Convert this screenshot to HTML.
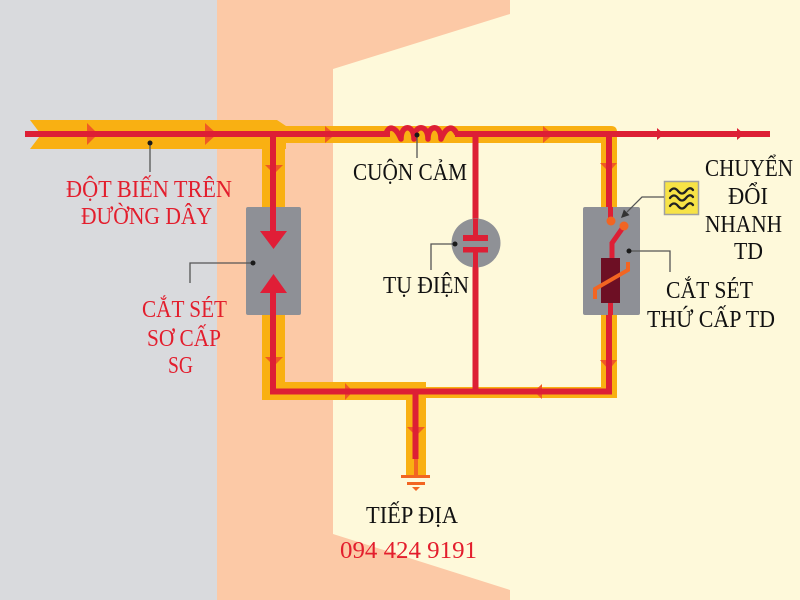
<!DOCTYPE html>
<html>
<head>
<meta charset="utf-8">
<style>
html,body{margin:0;padding:0;width:800px;height:600px;overflow:hidden;background:#fef9da;}
svg{display:block;}
text{font-family:"Liberation Serif","DejaVu Serif",serif;font-size:24.5px;}
.r{fill:#e31e2d;}
.k{fill:#111;}
</style>
</head>
<body>
<svg width="800" height="600" viewBox="0 0 800 600" xmlns="http://www.w3.org/2000/svg">
  <!-- backgrounds -->
  <rect x="0" y="0" width="800" height="600" fill="#fcc9a6"/>
  <rect x="0" y="0" width="217" height="600" fill="#d9dadd"/>
  <polygon points="510,0 800,0 800,600 510,600 510,590 333,534 333,69 510,14" fill="#fef9da"/>

  <!-- orange bands -->
  <g fill="#f9b012">
    <polygon points="30,120 277,120 286,126 286,149 30,149 41,134.5"/>
    <rect x="285" y="126" width="320" height="17"/>
    <path d="M601,126 H611 Q617,126 617,132 V398 H601 Z"/>
    <rect x="262" y="126" width="23" height="274"/>
    <rect x="262" y="382" width="164" height="18"/>
    <rect x="425" y="387" width="192" height="11"/>
    <rect x="406" y="392" width="20" height="83"/>
  </g>

  <!-- orange arrows on bands -->
  <g fill="#f05a24">
    <polygon points="87,123 98,134 87,145"/>
    <polygon points="205,123 217,134 205,145"/>
    <polygon points="325,126 335,134.5 325,143"/>
    <polygon points="543,126 553,134.5 543,143"/>
    <polygon points="265,165 283,165 274,174"/>
    <polygon points="265,357 283,357 274,366"/>
    <polygon points="600,163 617,163 609,172"/>
    <polygon points="600,360 617,360 609,370"/>
    <polygon points="345,383 353,391.5 345,400"/>
    <polygon points="542,384 534,391.5 542,399"/>
    <polygon points="407,427 425,427 416,436"/>
  </g>

  <!-- red lines -->
  <g stroke="#dd1f35" stroke-width="6" fill="none">
    <line x1="25" y1="134" x2="390" y2="134"/>
    <line x1="455" y1="134" x2="770" y2="134"/>
    <line x1="273" y1="131" x2="273" y2="232"/>
    <line x1="273" y1="292" x2="273" y2="394.5"/>
    <line x1="270" y1="391.5" x2="612" y2="391.5"/>
    <line x1="475.5" y1="134" x2="475.5" y2="238"/>
    <line x1="475.5" y1="250" x2="475.5" y2="392"/>
    <line x1="609" y1="131" x2="609" y2="221"/>
    <line x1="609" y1="303" x2="609" y2="394.5"/>
    <line x1="415.5" y1="391" x2="415.5" y2="459"/>
  </g>
  <!-- inductor coil -->
  <path d="M386,134 C388,126 395,125 401,139 C401,124 414,124 414,139 C414,124 428,124 428,139 C428,124 441,124 441,139 C447,125 453,126 457,134" stroke="#dd1f35" stroke-width="5.5" fill="none" stroke-linejoin="round"/>

  <!-- red small arrows on right -->
  <g fill="#dd1f35">
    <polygon points="657,128 664,134 657,140"/>
    <polygon points="737,128 744,134 737,140"/>
  </g>

  <!-- ground symbol -->
  <g fill="#f26522">
    <rect x="414" y="459" width="4" height="16"/>
    <rect x="401" y="475" width="29" height="3"/>
    <rect x="407" y="482" width="18" height="3"/>
    <polygon points="412,487 420,487 416,491"/>
  </g>

  <!-- SG box -->
  <rect x="246" y="207" width="55" height="108" rx="2" fill="#8e9096"/>
  <line x1="273" y1="207" x2="273" y2="232" stroke="#e01e37" stroke-width="6"/>
  <polygon points="260,231 287,231 273.5,249" fill="#e01e37"/>
  <polygon points="260,293 287,293 273.5,274" fill="#e01e37"/>
  <line x1="273" y1="293" x2="273" y2="315" stroke="#e01e37" stroke-width="6"/>

  <!-- capacitor -->
  <circle cx="476" cy="243" r="24.5" fill="#8f9196"/>
  <line x1="475.5" y1="219" x2="475.5" y2="236" stroke="#dd1f35" stroke-width="5"/>
  <line x1="475.5" y1="251" x2="475.5" y2="268" stroke="#dd1f35" stroke-width="5"/>
  <rect x="463" y="235" width="25" height="6" fill="#dd1f35"/>
  <rect x="463" y="247" width="25" height="5.5" fill="#dd1f35"/>

  <!-- TD box -->
  <rect x="583" y="207" width="57" height="108" rx="2" fill="#8e9096"/>
  <line x1="610.5" y1="207" x2="610.5" y2="221" stroke="#dd1f35" stroke-width="5"/>
  <line x1="610.5" y1="303" x2="610.5" y2="315" stroke="#dd1f35" stroke-width="5"/>
  <path d="M624,226 L612,243 V259" stroke="#dd1f35" stroke-width="5" fill="none"/>
  <rect x="601" y="258" width="19" height="45" fill="#6d0f24"/>
  <path d="M595,299 V289 L628,270 V262" stroke="#f26522" stroke-width="4" fill="none"/>
  <circle cx="611" cy="221" r="4.5" fill="#f26522"/>
  <circle cx="624" cy="226" r="4.5" fill="#f26522"/>

  <!-- yellow icon -->
  <rect x="664.5" y="181.5" width="34" height="33" fill="#f7e346" stroke="#a0a0a0" stroke-width="1.5"/>
  <g stroke="#222" stroke-width="2.3" fill="none" stroke-linecap="round">
    <path d="M670,191 q4,-5 8,0 t8,0 t7,-1"/>
    <path d="M670,198 q4,-5 8,0 t8,0 t7,-1"/>
    <path d="M670,206 q4,-5 8,0 t8,0 t7,-1"/>
  </g>

  <!-- callout lines -->
  <g stroke="#555" stroke-width="1.3" fill="none">
    <polyline points="150,143 150,172"/>
    <polyline points="253,263 190,263 190,283"/>
    <polyline points="417,135 417,158"/>
    <polyline points="455,244 431,244 431,270"/>
    <polyline points="664,197 642,197 627,212"/>
    <polyline points="629,251 670,251 670,272"/>
  </g>
  <polygon points="621,218 629.5,215.1 623.9,209.5" fill="#333"/>
  <g fill="#1a1a1a">
    <circle cx="150" cy="143" r="2.5"/>
    <circle cx="253" cy="263" r="2.5"/>
    <circle cx="417" cy="135" r="2.5"/>
    <circle cx="455" cy="244" r="2.5"/>
    <circle cx="629" cy="251" r="2.5"/>
  </g>

  <!-- labels -->
  <text class="r" x="66" y="197" textLength="166" lengthAdjust="spacingAndGlyphs">ĐỘT BIẾN TRÊN</text>
  <text class="r" x="81" y="224" textLength="131" lengthAdjust="spacingAndGlyphs">ĐƯỜNG DÂY</text>
  <text class="r" x="142" y="317" textLength="85" lengthAdjust="spacingAndGlyphs">CẮT SÉT</text>
  <text class="r" x="147" y="346" textLength="74" lengthAdjust="spacingAndGlyphs">SƠ CẤP</text>
  <text class="r" x="168" y="373" textLength="25" lengthAdjust="spacingAndGlyphs">SG</text>

  <text class="k" x="353" y="180" textLength="114" lengthAdjust="spacingAndGlyphs">CUỘN CẢM</text>
  <text class="k" x="383" y="293" textLength="86" lengthAdjust="spacingAndGlyphs">TỤ ĐIỆN</text>

  <text class="k" x="705" y="176" textLength="88" lengthAdjust="spacingAndGlyphs">CHUYỂN</text>
  <text class="k" x="728" y="204" textLength="40" lengthAdjust="spacingAndGlyphs">ĐỔI</text>
  <text class="k" x="705" y="232" textLength="77" lengthAdjust="spacingAndGlyphs">NHANH</text>
  <text class="k" x="734" y="259" textLength="29" lengthAdjust="spacingAndGlyphs">TD</text>
  <text class="k" x="666" y="298" textLength="87" lengthAdjust="spacingAndGlyphs">CẮT SÉT</text>
  <text class="k" x="647" y="327" textLength="128" lengthAdjust="spacingAndGlyphs">THỨ CẤP TD</text>

  <text class="k" x="366" y="523" textLength="92" lengthAdjust="spacingAndGlyphs">TIẾP ĐỊA</text>
  <text class="r" x="340" y="558" textLength="137" lengthAdjust="spacingAndGlyphs">094 424 9191</text>
</svg>
</body>
</html>
